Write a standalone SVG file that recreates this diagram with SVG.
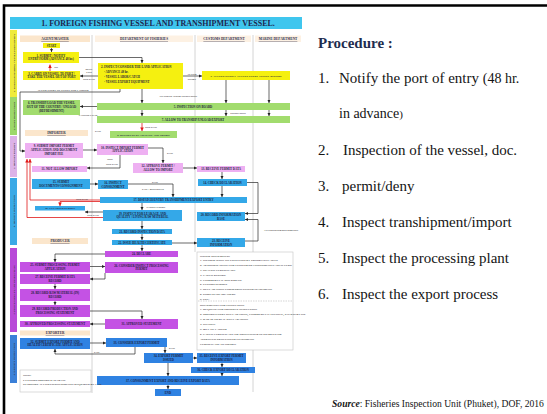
<svg xmlns="http://www.w3.org/2000/svg" width="547" height="414" viewBox="0 0 547 414">
<defs>
<marker id="ah" viewBox="0 0 6 6" refX="6" refY="3" markerWidth="3.2" markerHeight="3.2" markerUnits="userSpaceOnUse" orient="auto"><path d="M0,0 L6,3 L0,6 z" fill="#222"/></marker>
<marker id="ahr" viewBox="0 0 6 6" refX="6" refY="3" markerWidth="3.6" markerHeight="3.6" markerUnits="userSpaceOnUse" orient="auto"><path d="M0,0 L6,3 L0,6 z" fill="#e01818"/></marker>
</defs>
<style>
.y{fill:#f5f010}.g{fill:#a2dc6e}.l{fill:#eeb0f2}.b{fill:#34a8e8}.p{fill:#c452e4}.d{fill:#2f82e2}.h{fill:#fbe6cc}.hl{fill:#fdf1e3}
.t{font-family:"Liberation Serif",serif;font-weight:bold;font-size:3px;fill:#1c1c3a;text-anchor:middle}
.tl{font-family:"Liberation Serif",serif;font-weight:bold;font-size:3px;fill:#1c1c3a}
.hd{font-family:"Liberation Serif",serif;font-weight:bold;font-size:3.4px;fill:#2a2a4a;text-anchor:middle;text-decoration:underline}
.lb{font-family:"Liberation Serif",serif;font-weight:bold;font-size:2.5px;fill:#333;text-anchor:middle}
.dc{font-family:"Liberation Serif",serif;font-weight:bold;font-size:2.9px;fill:#3a3a3a}
.st{font-family:"Liberation Serif",serif;font-weight:bold;font-size:2.8px;fill:#333;text-anchor:middle}
.c{fill:none;stroke:#2a2a2a;stroke-width:0.7;marker-end:url(#ah)}
.cr{fill:none;stroke:#e01818;stroke-width:0.8;marker-end:url(#ahr)}
.dv{stroke:#c9c9c9;stroke-width:0.8}
.pr{font-family:"Liberation Serif",serif;fill:#141414}
</style>
<rect width="547" height="414" fill="#ffffff"/>
<path d="M4,414 V5.5 H547" fill="none" stroke="#000" stroke-width="2.6"/>

<g id="frame">
<rect x="10" y="17" width="292" height="12" fill="#3fc6ee"/>
<text x="158" y="26" font-family="Liberation Serif, serif" font-weight="bold" font-size="8" fill="#1d2850" text-anchor="middle">1. FOREIGN FISHING VESSEL AND TRANSHIPMENT VESSEL.</text>
<line class="dv" x1="92" y1="35" x2="92" y2="393"/>
<line class="dv" x1="195" y1="35" x2="195" y2="252"/>
<line class="dv" x1="253" y1="35" x2="253" y2="392"/>
<rect class="h" x="20" y="35.5" width="70" height="6.5"/>
<text class="hd" x="55" y="40.3">AGENT/MASTER</text>
<rect class="hl" x="95" y="35.5" width="98" height="6.5"/>
<text class="hd" x="144" y="40.3">DEPARTMENT OF FISHERIES</text>
<rect class="hl" x="197" y="35.5" width="54" height="6.5"/>
<text class="hd" x="224" y="40.3">CUSTOMS DEPARTMENT</text>
<rect class="hl" x="255" y="35.5" width="46" height="6.5"/>
<text class="hd" x="278" y="40.3">MARINE DEPARTMENT</text>
<rect x="10" y="30" width="7" height="67" fill="#efeb3a"/>
<rect x="10" y="97" width="7" height="38" fill="#9cd86a"/>
<rect x="10" y="136" width="7" height="41" fill="#dcb2e8"/>
<rect x="10" y="178" width="7" height="67" fill="#3ba9e6"/>
<rect x="10" y="248" width="7" height="84" fill="#b84ad8"/>
<rect x="10" y="335" width="7" height="48" fill="#3b80d8"/>
<text class="st" transform="translate(14.5,63) rotate(-90)">1. FOREIGN FISHING VESSEL PORT ENTRY</text>
<text class="st" transform="translate(14.5,116) rotate(-90)">2. PORT INSPECTION</text>
<text class="st" transform="translate(14.5,156) rotate(-90)">3. IMPORT PERMIT</text>
<text class="st" transform="translate(14.5,211) rotate(-90)">4. IMPORT INSPECTION</text>
<text class="st" transform="translate(14.5,290) rotate(-90)">5. PROCESSING PLANT INSPECTION</text>
<text class="st" transform="translate(14.5,359) rotate(-90)">6. EXPORT INSPECTION</text>
</g>

<g id="connectors">
<path class="c" d="M51.5,48 V52"/>
<path class="c" d="M79,57.5 H142 V63"/>
<path class="cr" d="M50,71 V64.5"/>
<text class="lb" x="56" y="68">NO</text>
<path class="c" d="M98,76 H80"/>
<text class="lb" x="89" y="70">DENY</text><text class="lb" x="89" y="73">LIST</text><text class="lb" x="89" y="79.5">NOT PASS</text>
<path class="c" d="M183,76 H202"/>
<text class="lb" x="192" y="74.5">ALLOW</text><text class="lb" x="192" y="79.5">ENTRY</text>
<path class="c" d="M142,89 V103"/>
<path class="c" d="M226,80 V103"/>
<path class="c" d="M269,80 V103"/>
<path class="c" d="M120,89 V92 H20 V151 H25"/>
<text class="lb" x="63" y="90.5">ALLOW ENTRY OF VESSEL FOR LANDING</text>
<text class="lb" x="178" y="97">ALLOWED AFTER INSPECTION</text>
<path class="c" d="M97,106.5 H80"/>
<text class="lb" x="88" y="115.5">CANNOT LOAD</text>
<path class="c" d="M142,110 V116"/>
<path class="c" d="M226,110 V116"/>
<text class="lb" x="238" y="113.5">INSPECTION</text>
<path class="c" d="M269,110 V116"/>
<path class="cr" d="M142,123 V131"/>
<text class="lb" x="151" y="128">NOT PASS</text>
<text class="lb" x="98" y="132">PASS</text>
<path class="c" d="M83,150 H97"/>
<path class="c" d="M148,148 H163 V163"/>
<text class="lb" x="170" y="154">PASS</text>
<path class="c" d="M120,155 V168 H87"/>
<text class="lb" x="110" y="160">NOT</text><text class="lb" x="112" y="165">NOT PASS</text>
<path class="cr" d="M100,200 H30 V159"/>
<path class="cr" d="M103,217.5 H27 V159"/>
<path class="c" d="M183,168 H197"/>
<path class="c" d="M222,172 V179"/>
<path class="c" d="M222,186 V197"/>
<path class="c" d="M247,182.5 H258 V213.5 H245"/>
<path class="c" d="M90,184 H98"/>
<path class="c" d="M128,184 H173 V197"/>
<text class="lb" x="155" y="182.5">PASS</text>
<text class="lb" x="153" y="190">FAIL / REINSPECT</text>
<path class="cr" d="M100,201.5 H60 V206"/>
<text class="lb" x="82" y="199.5">NOT PASS</text>
<path class="c" d="M142,203 V210"/>
<text class="lb" x="156" y="207.5">SATISFACTORY</text>
<path class="c" d="M103,212 H85"/>
<text class="lb" x="93" y="216">NOT PASS</text>
<path class="c" d="M142,221 V229"/>
<path class="c" d="M142,234 V240"/>
<path class="c" d="M172,243 H197"/>
<path class="c" d="M245,241 H258 V219.5 H245"/>
<text class="lb" x="281" y="231">ACCOUNTING/DOCUMENTS</text>
<path class="c" d="M142,245 V251"/>
<path class="c" d="M105,254 H55 V262"/>
<path class="c" d="M90,266.5 H105"/>
<path class="c" d="M105,273 V279 H90"/>
<path class="c" d="M55,284 V289"/>
<path class="c" d="M55,301 V305"/>
<path class="c" d="M90,311 H142 V319"/>
<path class="c" d="M105,324 H90"/>
<path class="c" d="M90,343 H106"/>
<path class="c" d="M165,347 V353"/>
<text class="lb" x="172" y="348.5">PASS</text>
<path class="c" d="M135,347 V354 H55 V349"/>
<text class="lb" x="97" y="353">FAIL</text>
<path class="c" d="M193,358 H197"/>
<path class="c" d="M222,363 V367"/>
<path class="c" d="M168,363 V376"/>
<path class="c" d="M222,373 V376"/>
<path class="c" d="M168,385 V389"/>
</g>

<g id="start"><rect class="y" x="43" y="43" width="17" height="5"/><text class="t" x="51.5" y="46.6">START</text></g>
<g id="n1"><rect class="y" x="23" y="52" width="56" height="11"/><text class="t" x="51" y="56.6">1. SUBMIT / NOTIFY<tspan x="51" dy="3.8">ENTRY FORM (ADVANCE 48 hr.)</tspan></text></g>
<g id="n2"><rect class="y" x="98" y="63" width="85" height="26"/><text class="tl" x="101" y="68">2. INSPECT/CONSIDER THE LAND APPLICATION<tspan x="104" dy="5">- ADVANCE 48 hr.</tspan><tspan x="104" dy="5">- VESSEL LABOR/CATCH</tspan><tspan x="104" dy="5">- VESSEL EXPORT EQUIPMENT</tspan></text></g>
<g id="n3"><rect class="y" x="23" y="71" width="57" height="9"/><text class="t" x="51.5" y="74.8">3. CARRY ON VESSEL TO PORT /<tspan x="51.5" dy="3.6">TAKE THE VESSEL OUT OF PORT</tspan></text></g>
<g id="n4"><rect class="y" x="202" y="71" width="88" height="9"/><text class="t" x="246" y="76.6" style="font-size:2.8px">4. ACCEPT/NOTIFY ACCEPT ENTRY VESSEL REPORT</text></g>
<g id="n6"><rect class="g" x="23" y="100" width="57" height="15"/><text class="t" x="51.5" y="104.2">6. TRANSHIP/LOAD THE VESSEL<tspan x="51.5" dy="3.8">OUT OF THE COUNTRY / UNLOAD</tspan><tspan x="51.5" dy="3.8">(REFRESHMENT)</tspan></text></g>
<g id="n5"><rect class="g" x="97" y="103" width="193" height="7"/><text class="t" x="193" y="107.6">5. INSPECTION ON BOARD</text></g>
<g id="n7"><rect class="g" x="97" y="116" width="193" height="7"/><text class="t" x="193" y="120.6">7. ALLOW TO TRANSHIP/UNLOAD/EXPORT</text></g>
<g id="importer"><rect class="h" x="25" y="130" width="63" height="6"/><text class="hd" x="56.5" y="134.3">IMPORTER</text></g>
<g id="n8"><rect class="g" x="110" y="131" width="67" height="7"/><text class="t" x="143.5" y="135.5" style="font-size:2.7px">8. REPORT TO FLAG STATE AND ORIGIN</text></g>
<g id="n9"><rect class="l" x="25" y="143" width="58" height="15"/><text class="t" x="54" y="147.2">9. SUBMIT IMPORT PERMIT<tspan x="54" dy="3.8">APPLICATION AND DOCUMENT</tspan><tspan x="54" dy="3.8">IMPORT FEE</tspan></text></g>
<g id="n10"><rect class="l" x="97" y="144" width="51" height="11"/><text class="t" x="122.5" y="148.6">10. INSPECT IMPORT PERMIT<tspan x="122.5" dy="3.8">APPLICATION</tspan></text></g>
<g id="n11"><rect class="l" x="32" y="166" width="55" height="6"/><text class="t" x="59.5" y="170">11. NOT ALLOW IMPORT</text></g>
<g id="n12"><rect class="l" x="133" y="163" width="50" height="10"/><text class="t" x="158" y="167.3">12. APPROVE PERMIT /<tspan x="158" dy="3.8">ALLOW TO IMPORT</tspan></text></g>
<g id="n13"><rect class="l" x="197" y="166" width="48" height="6"/><text class="t" x="221" y="170">13. RECEIVE PERMIT DATA</text></g>
<g id="n14"><rect class="b" x="198" y="179" width="49" height="7"/><text class="t" x="222.5" y="183.5">14. CHECK DECLARATION</text></g>
<g id="n15"><rect class="b" x="32" y="179" width="58" height="10"/><text class="t" x="61" y="183.3">15. SUBMIT<tspan x="61" dy="3.8">DOCUMENTS/CONSIGNMENT</tspan></text></g>
<g id="n16"><rect class="b" x="98" y="180" width="30" height="9"/><text class="t" x="113" y="183.9">16. INSPECT<tspan x="113" dy="3.6">CONSIGNMENT</tspan></text></g>
<g id="n17"><rect class="b" x="100" y="197" width="147" height="6"/><text class="t" x="173.5" y="201">17. DISPATCH/ENTRY TRANSHIPMENT/EXPORT ENTRY</text></g>
<g id="n18"><rect class="b" x="35" y="206" width="50" height="4.5"/><text class="t" x="60" y="209.3" style="font-size:2.7px">18. CLEARING PERMIT</text></g>
<g id="n19"><rect class="b" x="103" y="210" width="79" height="11"/><text class="t" x="142.5" y="214.6">19. INSPECT FOR LEAKAGE AND<tspan x="142.5" dy="3.8">QUALITY / LIVING RAW MATERIAL</tspan></text></g>
<g id="n20"><rect class="b" x="197" y="212" width="48" height="9"/><text class="t" x="221" y="215.9">20. RECORD INFORMATION<tspan x="221" dy="3.6">BASE</tspan></text></g>
<g id="n21"><rect class="b" x="112" y="229" width="60" height="5"/><text class="t" x="142" y="232.5">21. RECORD INSPECTION DATA</text></g>
<g id="producer"><rect class="h" x="32" y="238" width="56" height="6"/><text class="hd" x="60" y="242.3">PRODUCER</text></g>
<g id="n22"><rect class="b" x="112" y="240" width="60" height="5"/><text class="t" x="142" y="243.5">22. ISSUE HEALTH CERTIFICATE</text></g>
<g id="n23"><rect class="b" x="197" y="238" width="48" height="9"/><text class="t" x="221" y="241.9">23. RECEIVE<tspan x="221" dy="3.6">INFORMATION</tspan></text></g>
<g id="n24"><rect class="p" x="105" y="251" width="73" height="6"/><text class="t" x="141.5" y="255">24. DECLARE</text></g>
<g id="n25"><rect class="p" x="20" y="262" width="70" height="10"/><text class="t" x="55" y="266.3">25. SUBMIT PROCESSING PERMIT<tspan x="55" dy="3.8">APPLICATION</tspan></text></g>
<g id="n26"><rect class="p" x="105" y="262" width="73" height="11"/><text class="t" x="141.5" y="266.6">26. CONSIDER/INSPECT PROCESSING<tspan x="141.5" dy="3.8">PERMIT</tspan></text></g>
<g id="n27"><rect class="p" x="20" y="274" width="70" height="10"/><text class="t" x="55" y="278.3">27. RECEIVE PERMIT DATA<tspan x="55" dy="3.8">RECORD</tspan></text></g>
<g id="n28"><rect class="p" x="20" y="289" width="70" height="12"/><text class="t" x="55" y="294">28. RECORD RAW MATERIAL (IN)<tspan x="55" dy="4">RECORD</tspan></text></g>
<g id="n29"><rect class="p" x="20" y="305" width="70" height="12"/><text class="t" x="55" y="310">29. RECORD PRODUCTION AND<tspan x="55" dy="4">PROCESSING STATEMENT</tspan></text></g>
<g id="n30"><rect class="p" x="20" y="321" width="70" height="6"/><text class="t" x="55" y="325">30. APPROVED PROCESSING STATEMENT</text></g>
<g id="n31"><rect class="p" x="105" y="319" width="73" height="10"/><text class="t" x="141.5" y="325">31. APPROVED STATEMENT</text></g>
<g id="exporter"><rect class="h" x="20" y="330.5" width="70" height="5"/><text class="hd" x="55" y="334.3">EXPORTER</text></g>
<g id="n32"><rect class="d" x="20" y="338" width="70" height="11"/><text class="t" x="55" y="342.6">32. SUBMIT EXPORT PERMIT AND<tspan x="55" dy="3.8">HEALTH CERTIFICATE APPLICATION</tspan></text></g>
<g id="n33"><rect class="d" x="106" y="338" width="61" height="9"/><text class="t" x="136.5" y="343.5">33. CONSIDER EXPORT PERMIT</text></g>
<g id="n34"><rect class="d" x="144" y="353" width="49" height="10"/><text class="t" x="168.5" y="357.3">34. EXPORT PERMIT<tspan x="168.5" dy="3.8">ISSUED</tspan></text></g>
<g id="n35"><rect class="d" x="197" y="353" width="49" height="10"/><text class="t" x="221.5" y="357.3">35. RECEIVE EXPORT PERMIT<tspan x="221.5" dy="3.8">INFORMATION</tspan></text></g>
<g id="n36"><rect class="d" x="191" y="367" width="64" height="6"/><text class="t" x="223" y="371">36. CHECK EXPORT DECLARATION</text></g>
<g id="n37"><rect class="d" x="97" y="376" width="142" height="9"/><text class="t" x="168" y="381.5">37. CONSIGNMENT EXPORT AND RECEIVE EXPORT DATA</text></g>
<g id="end"><rect class="d" x="155" y="389" width="26" height="7"/><text class="t" x="168" y="393.5">END</text></g>

<g id="note"><rect x="20" y="370" width="71" height="22" fill="#fff" stroke="#c4c4c4" stroke-width="0.6"/>
<text class="dc" x="23" y="376">NOTE<tspan x="23" dy="4.5">* EXPORT/IMPORT DATABASE</tspan><tspan x="23" dy="4.5">** IMPORT ALLOWED/DOCUMENTS REQUIRED BY LAW</tspan></text></g>

<g id="documents"><rect x="197" y="252" width="96" height="98" fill="#fff" stroke="#c4c4c4" stroke-width="0.6"/>
<text class="dc" x="200" y="256.5">OTHER DOCUMENTS
<tspan x="200" dy="4.8">1. INFORMATION ON FISH/FISHERY PRODUCTS/CATCH</tspan>
<tspan x="200" dy="4.8">2. AUTHORIZATION FOR FISHING/TRANSHIPMENT/CATCH CERT.</tspan>
<tspan x="200" dy="4.8">3. HEALTH CERTIFICATE</tspan>
<tspan x="200" dy="4.8">4. CATCH REPORT</tspan>
<tspan x="200" dy="4.8">5. COMMERCIAL DOCUMENT</tspan>
<tspan x="200" dy="4.8">6. EXPORT PERMIT</tspan>
<tspan x="200" dy="4.8">7. DECLARATION FORM/PROCESSING STATEMENT</tspan>
<tspan x="200" dy="4.8">8. PORT STATE MEASURE</tspan>
<tspan x="200" dy="4.8">9. ETC.</tspan></text>
<line x1="198" y1="301" x2="292" y2="301" stroke="#aaa" stroke-width="0.5" stroke-dasharray="1.5,1"/>
<text class="dc" x="200" y="305.5">DOCUMENTS FOR INSPECTION
<tspan x="200" dy="4.9">1. REQUEST FOR PRODUCT INSPECTION</tspan>
<tspan x="200" dy="4.9">2. IMPORT/ENTRY DECLARATION, COMMERCIAL INVOICE, PACKING LIST</tspan>
<tspan x="200" dy="4.9">3. RAW MATERIAL DECLARATION</tspan>
<tspan x="200" dy="4.9">4. INVOICE</tspan>
<tspan x="200" dy="4.9">5. BILL OF LADING</tspan>
<tspan x="200" dy="4.9">6. CATCH CERTIFICATE OR PROCESSING STATEMENT OR</tspan>
<tspan x="200" dy="4.9">APPROVED PROCESSING STATEMENT</tspan>
<tspan x="200" dy="4.9">CERTIFICATE OF ORIGIN</tspan></text></g>

<g id="procedure">
<text class="pr" x="318" y="48" font-size="15" font-weight="bold" fill="#1f2d4f" style="fill:#1f2d4f">Procedure :</text>
<text class="pr" x="318" y="83" font-size="15">1.</text>
<text class="pr" x="339" y="83" font-size="15">Notify the port of entry <tspan font-size="14">(48 hr.</tspan></text>
<text class="pr" x="339" y="118" font-size="14">in advance<tspan font-size="11">)</tspan></text>
<text class="pr" x="318" y="155" font-size="15">2.</text>
<text class="pr" x="343" y="155" font-size="15">Inspection of the vessel, doc.</text>
<text class="pr" x="318" y="191" font-size="15">3.</text>
<text class="pr" x="342" y="191" font-size="15">permit/deny</text>
<text class="pr" x="318" y="227" font-size="15">4.</text>
<text class="pr" x="342" y="227" font-size="15">Inspect transhipment/import</text>
<text class="pr" x="318" y="263" font-size="15">5.</text>
<text class="pr" x="342" y="263" font-size="15">Inspect the processing plant</text>
<text class="pr" x="318" y="299" font-size="15">6.</text>
<text class="pr" x="342" y="299" font-size="15">Inspect the export process</text>
<text class="pr" x="332" y="407" font-size="9.6"><tspan font-weight="bold" font-style="italic">Source</tspan>: Fisheries Inspection Unit (Phuket), DOF, 2016</text>
</g>
</svg>
